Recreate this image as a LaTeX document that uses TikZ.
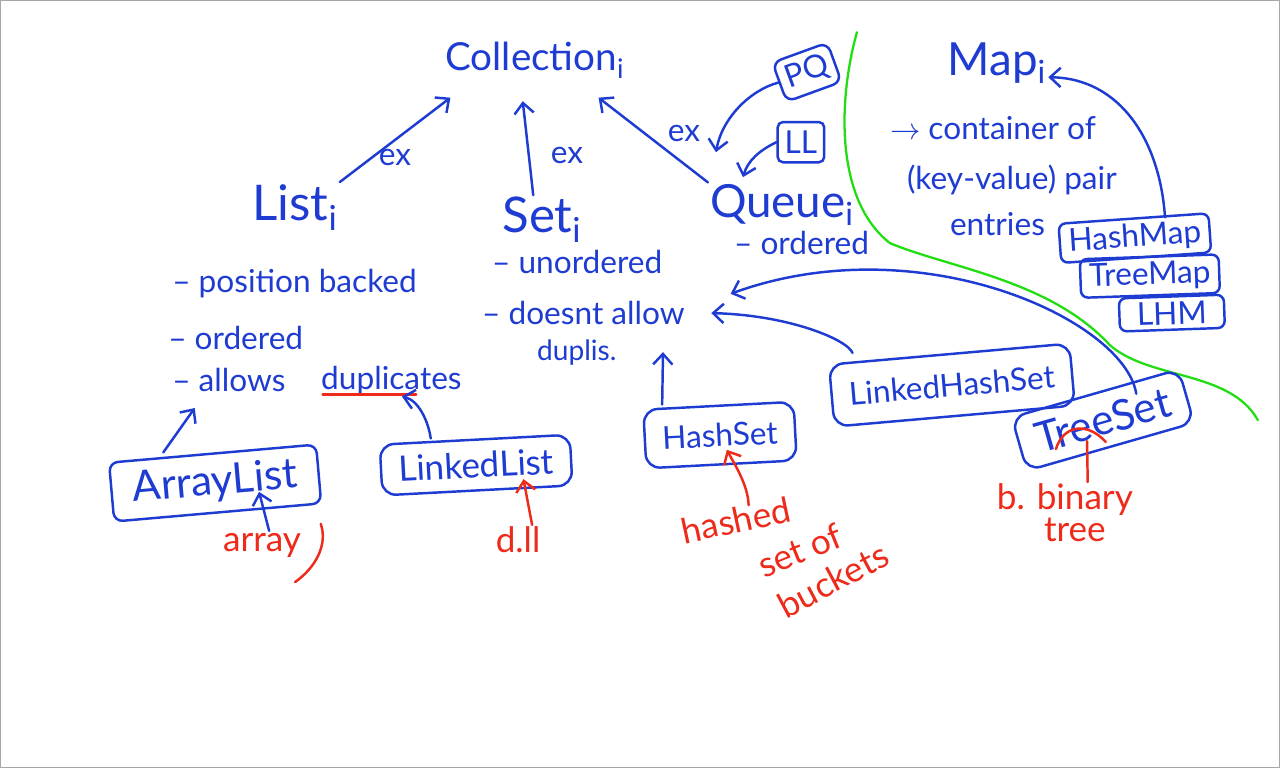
\documentclass[tikz,border=0pt]{standalone}
\usepackage{fontspec}
\setmainfont{Lato}
\usetikzlibrary{arrows.meta}
\definecolor{inkblue}{HTML}{1E3CD2}
\definecolor{inkred}{HTML}{EE2A1A}
\definecolor{inkgreen}{HTML}{22DD11}
\newcommand{\fsz}[1]{\fontsize{#1}{#1}\selectfont}
\newcommand{\isub}[1]{\textsubscript{#1}}
\begin{document}
\begin{tikzpicture}[x=0.02cm,y=-0.02cm,
  ink/.style={draw=inkblue, line width=1.4pt, line cap=round, line join=round},
  redink/.style={draw=inkred, line width=1.4pt, line cap=round, line join=round},
  arrowed/.style={-{Straight Barb[length=6pt,width=11pt]}},
  title/.style={text=inkblue, font=\fsz{28}, inner sep=1pt},
  lab/.style={text=inkblue, font=\fsz{18}, inner sep=1pt},
  body/.style={text=inkblue, font=\fsz{18}, inner sep=1pt, anchor=west},
  note/.style={text=inkred, font=\fsz{20}, inner sep=1pt},
  box/.style={draw=inkblue, line width=1.4pt, rounded corners=8pt, text=inkblue,
              font=\fsz{20}, inner xsep=10pt, inner ysep=7pt},
  mapbox/.style={box, font=\fsz{18}, rounded corners=4pt, inner xsep=5pt, inner ysep=3pt}]

\fill[white] (0,0) rectangle (1280,768);
\draw[gray!70, line width=0.8pt] (0.5,0.5) rectangle (1279.5,767.5);
\useasboundingbox (0,0) rectangle (1280,768);

% ---- titles
\node[title, font=\fsz{22}] (coll) at (535,60) {Collection\isub{i}};
\node[title] (list) at (295,207) {List\isub{i}};
\node[title] (set) at (542,220) {Set\isub{i}};
\node[title, font=\fsz{26}] (queue) at (782,205) {Queue\isub{i}};
\node[title, font=\fsz{26}] (map) at (997,63) {Map\isub{i}};

\node[lab] (ex1) at (395,157) {ex};
\node[lab] (ex2) at (567,155) {ex};
\node[lab] (ex3) at (684,133) {ex};

\draw[ink,arrowed] (list.north east) -- ([xshift=4pt,yshift=-10pt]coll.south west);
\draw[ink,arrowed] ([xshift=-5pt]set.north) -- ([xshift=-7pt,yshift=-12pt]coll.south);
\draw[ink,arrowed] (queue.north west) -- ([xshift=-16pt,yshift=-10pt]coll.south east);

% ---- queue examples
\node[box, font=\fsz{18}, rotate=20, inner xsep=4pt, inner ysep=4pt, rounded corners=5pt] (pq) at (807,72) {PQ};
\node[box, font=\fsz{18}, inner xsep=4pt, inner ysep=5pt, rounded corners=3pt] (ll) at (801,142) {LL};
\coordinate (qa) at (716,152);
\coordinate (qb) at (743,177);
\draw[ink,arrowed] (pq.west) .. controls (750,90) and (722,118) .. (qa);
\draw[ink,arrowed] (ll.west) .. controls (760,150) and (748,160) .. (qb);
\node[body] (qo1) at (732,243) {-- ordered};

% ---- green divider
\draw[inkgreen, line width=1.3pt, line cap=round]
  (857,32) .. controls (838,100) and (835,200) .. (890,243)
  .. controls (950,268) and (1050,280) .. (1110,345)
  .. controls (1150,380) and (1230,370) .. (1258,420);

% ---- map side
\node[body] (mt1) at (888,128) {$\rightarrow$ container of};
\node[body] (mt2) at (905,180) {(key-value) pair};
\node[body] (mt3) at (948,224) {entries};
\node[mapbox, rotate=4] (hm) at (1135,238) {HashMap};
\node[mapbox, rotate=2] (tm) at (1150,276) {TreeMap};
\node[mapbox, rotate=2, minimum width=2.1cm] (lhm) at (1172,313) {LHM};
\draw[ink,arrowed] ([xshift=18pt]hm.north) .. controls (1160,140) and (1120,78) .. ([yshift=-8pt]map.east);

% ---- set side
\node[body] (su1) at (490,262) {-- unordered};
\node[body] (su2) at (480,313) {-- doesnt allow};
\node[body, font=\fsz{16}] (su3) at (535,352) {duplis.};

% ---- list side
\node[body] (lp1) at (170,283) {-- position backed};
\node[body] (lp2) at (166,338) {-- ordered};
\node[body] (lp3) at (170,380) {-- allows};
\node[body] (dup) at ([xshift=18pt]lp3.east) {duplicates};
\draw[redink] ([xshift=2pt,yshift=-3pt]dup.base west) -- ([xshift=-27pt,yshift=-3pt]dup.base east);

% ---- implementation boxes
\node[box, font=\fsz{24}, rotate=5, inner xsep=12pt, inner ysep=6pt, rounded corners=5pt] (al) at (215,483) {ArrayList};
\node[box, rotate=3] (lkl) at (476,465) {LinkedList};
\node[box, font=\fsz{18}, rotate=3, inner ysep=10pt] (hs) at (720,435) {HashSet};
\node[box, font=\fsz{18}, rotate=5, inner ysep=11pt] (lhs) at (952,385) {LinkedHashSet};
\node[box, font=\fsz{24}, rotate=16] (ts) at (1103,420) {TreeSet};

\draw[ink,arrowed] ([xshift=-28pt]al.north) -- ([xshift=14pt,yshift=-8pt]lp3.south west);
\draw[ink,arrowed] ([xshift=-25pt]lkl.north) .. controls (428,420) and (418,400) .. ([xshift=6pt]dup.south);
\coordinate (hsT) at (663,352);
\draw[ink,arrowed] ([xshift=-32pt]hs.north) -- (hsT);
\draw[ink,arrowed] ([xshift=-55pt]lhs.north) .. controls (848,340) and (790,315) .. ([xshift=14pt]su2.east);
\draw[ink,arrowed] ([xshift=19pt,yshift=15pt]ts.center) .. controls (1125,320) and (920,225) .. ([xshift=25pt,yshift=11pt]su2.east);

% ---- red notes
\node[note] (arrn) at (262,545) {array};
\draw[ink,arrowed] ([xshift=4pt]arrn.north) -- ([xshift=25pt,yshift=-5pt]al.center);
\draw[redink] ([xshift=10pt,yshift=4pt]arrn.north east) .. controls (328,545) and (315,568) .. (295,582);

\node[note] (dll) at (518,540) {d.ll};
\draw[redink,arrowed] ([xshift=8pt]dll.north) -- ([xshift=27pt,yshift=-8pt]lkl.center);

\node[note, rotate=12] (hsh) at (736,520) {hashed};
\node[note, rotate=22] (sof) at (800,550) {set of};
\node[note, rotate=28] (bkt) at (833,580) {buckets};
\draw[redink,arrowed] ([xshift=9pt]hsh.north) .. controls (748,485) and (735,465) .. ([xshift=3pt,yshift=9pt]hs.south);

\node[note] (bt1) at (1065,500) {b. binary};
\node[note] (bt2) at (1075,530) {tree};
\draw[redink] ([xshift=13pt]bt1.north) -- ([xshift=-9pt,yshift=-12pt]ts.center);
\draw[redink] (1056,449) .. controls (1064,424) and (1088,422) .. (1106,442);
\end{tikzpicture}
\end{document}
